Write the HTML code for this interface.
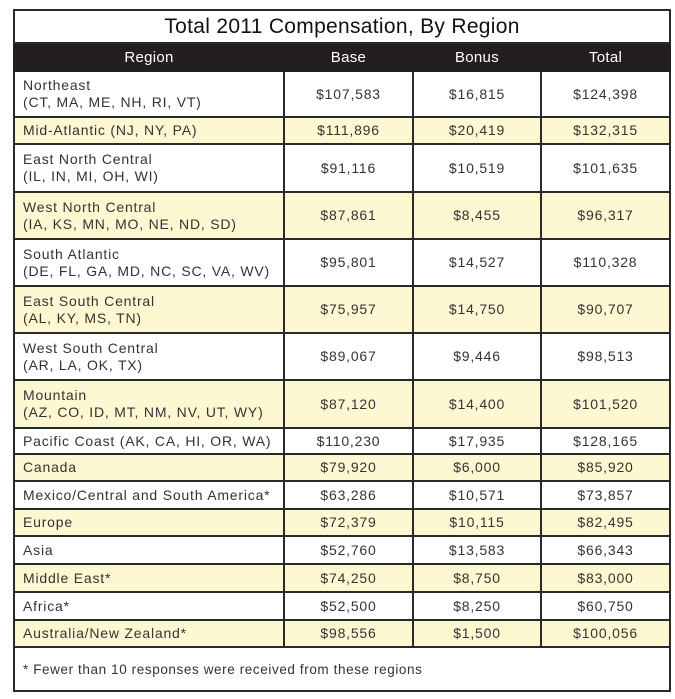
<!DOCTYPE html>
<html><head><style>
body{margin:0;background:#fff;width:675px;height:699px;overflow:hidden;font-family:"Liberation Sans",sans-serif;color:#333}
table{position:absolute;left:13px;top:9px;border-collapse:collapse;width:656px;table-layout:fixed}
td,th{border:2px solid #2a2a2a;padding:0 0 0 8px;font-size:14px;font-weight:normal;line-height:17px;letter-spacing:0.8px}
td.n{text-align:center;padding:0}
.t{height:31px;text-align:center;font-size:21px;color:#111;padding:0;letter-spacing:0.3px}
.h th{background:#231f20;color:#fff;height:26px;text-align:center;font-size:15px;padding:0;border-color:#231f20;letter-spacing:0.3px}
.y td{background:#fdf8d2}
.f td{height:42px;border-top:2px solid #2a2a2a;font-size:13.5px;letter-spacing:0.6px}
</style></head><body>
<table>
<colgroup><col style="width:270px"><col style="width:129px"><col style="width:128px"><col style="width:129px"></colgroup>
<tr><td colspan="4" class="t">Total 2011 Compensation, By Region</td></tr>
<tr class="h"><th>Region</th><th>Base</th><th>Bonus</th><th>Total</th></tr>
<tr style="height:46px"><td>Northeast<br>(CT, MA, ME, NH, RI, VT)</td><td class="n">$107,583</td><td class="n">$16,815</td><td class="n">$124,398</td></tr>
<tr class="y" style="height:27px"><td>Mid-Atlantic (NJ, NY, PA)</td><td class="n">$111,896</td><td class="n">$20,419</td><td class="n">$132,315</td></tr>
<tr style="height:48px"><td>East North Central<br>(IL, IN, MI, OH, WI)</td><td class="n">$91,116</td><td class="n">$10,519</td><td class="n">$101,635</td></tr>
<tr class="y" style="height:47px"><td>West North Central<br>(IA, KS, MN, MO, NE, ND, SD)</td><td class="n">$87,861</td><td class="n">$8,455</td><td class="n">$96,317</td></tr>
<tr style="height:47px"><td>South Atlantic<br>(DE, FL, GA, MD, NC, SC, VA, WV)</td><td class="n">$95,801</td><td class="n">$14,527</td><td class="n">$110,328</td></tr>
<tr class="y" style="height:47px"><td>East South Central<br>(AL, KY, MS, TN)</td><td class="n">$75,957</td><td class="n">$14,750</td><td class="n">$90,707</td></tr>
<tr style="height:47px"><td>West South Central<br>(AR, LA, OK, TX)</td><td class="n">$89,067</td><td class="n">$9,446</td><td class="n">$98,513</td></tr>
<tr class="y" style="height:48px"><td>Mountain<br>(AZ, CO, ID, MT, NM, NV, UT, WY)</td><td class="n">$87,120</td><td class="n">$14,400</td><td class="n">$101,520</td></tr>
<tr style="height:26px"><td>Pacific Coast (AK, CA, HI, OR, WA)</td><td class="n">$110,230</td><td class="n">$17,935</td><td class="n">$128,165</td></tr>
<tr class="y" style="height:27px"><td>Canada</td><td class="n">$79,920</td><td class="n">$6,000</td><td class="n">$85,920</td></tr>
<tr style="height:28px"><td>Mexico/Central and South America*</td><td class="n">$63,286</td><td class="n">$10,571</td><td class="n">$73,857</td></tr>
<tr class="y" style="height:27px"><td>Europe</td><td class="n">$72,379</td><td class="n">$10,115</td><td class="n">$82,495</td></tr>
<tr style="height:28px"><td>Asia</td><td class="n">$52,760</td><td class="n">$13,583</td><td class="n">$66,343</td></tr>
<tr class="y" style="height:28px"><td>Middle East*</td><td class="n">$74,250</td><td class="n">$8,750</td><td class="n">$83,000</td></tr>
<tr style="height:28px"><td>Africa*</td><td class="n">$52,500</td><td class="n">$8,250</td><td class="n">$60,750</td></tr>
<tr class="y" style="height:27px"><td>Australia/New Zealand*</td><td class="n">$98,556</td><td class="n">$1,500</td><td class="n">$100,056</td></tr>
<tr class="f"><td colspan="4">* Fewer than 10 responses were received from these regions</td></tr>
</table>
</body></html>
